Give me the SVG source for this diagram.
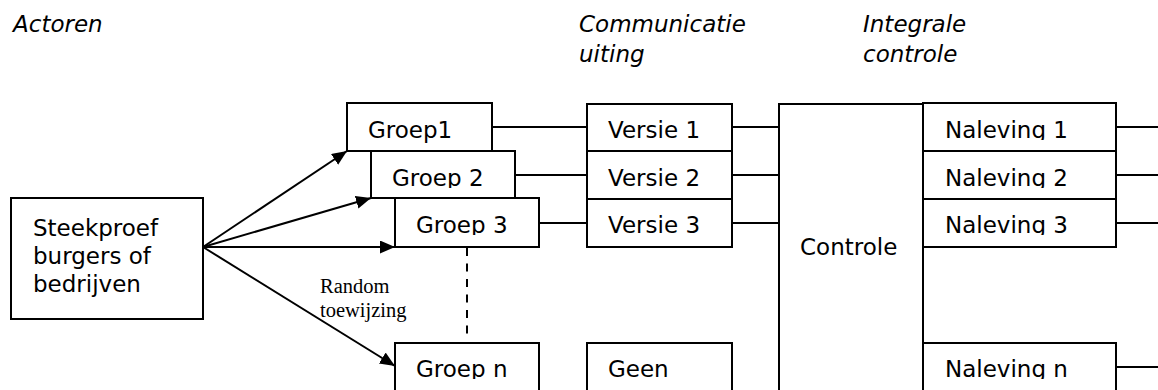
<svg xmlns="http://www.w3.org/2000/svg" width="1158" height="390" viewBox="0 0 1158 390">
<style>
.box{fill:#fff;stroke:#000;stroke-width:2}
.t{font-family:"DejaVu Sans",Verdana,sans-serif;font-size:23px;fill:#000}
.h{font-family:"DejaVu Sans",Verdana,sans-serif;font-size:23px;font-style:italic;fill:#000}
.s{font-family:"Liberation Serif","Times New Roman",serif;font-size:20.5px;fill:#000}
.ln{stroke:#000;stroke-width:2;fill:none}
.dash{stroke:#000;stroke-width:2;fill:none;stroke-dasharray:8 7.5}
</style>
<defs>
<marker id="ah" markerUnits="userSpaceOnUse" markerWidth="16" markerHeight="14" refX="15" refY="6.5" orient="auto">
<path d="M0,0 L15,6.5 L0,13 z" fill="#000"/>
</marker>
<clipPath id="c2"><rect x="371" y="151" width="144" height="37"/></clipPath>
<clipPath id="c3"><rect x="395" y="198" width="144" height="37"/></clipPath>
<clipPath id="cn1"><rect x="923" y="103" width="193" height="37"/></clipPath>
<clipPath id="cn2"><rect x="923" y="151" width="193" height="37"/></clipPath>
<clipPath id="cn3"><rect x="923" y="199" width="193" height="36"/></clipPath>
<clipPath id="cbot"><rect x="0" y="343" width="1158" height="36"/></clipPath>
</defs>
<g id="headers">
<text class="h" x="13" y="32">Actoren</text>
<text class="h" x="579" y="32">Communicatie</text>
<text class="h" x="579" y="62">uiting</text>
<text class="h" x="863" y="32">Integrale</text>
<text class="h" x="863" y="62">controle</text>
</g>
<g id="connectors">
<line class="ln" x1="203" y1="247" x2="347" y2="151" marker-end="url(#ah)"/>
<line class="ln" x1="203" y1="247" x2="371" y2="198" marker-end="url(#ah)"/>
<line class="ln" x1="203" y1="247" x2="395" y2="247" marker-end="url(#ah)"/>
<line class="ln" x1="203" y1="247" x2="395" y2="366" marker-end="url(#ah)"/>
<line class="dash" x1="467" y1="248" x2="467" y2="339"/>
<line class="ln" x1="492" y1="127" x2="587" y2="127"/>
<line class="ln" x1="515" y1="175" x2="587" y2="175"/>
<line class="ln" x1="539" y1="223" x2="587" y2="223"/>
<line class="ln" x1="732" y1="127" x2="779" y2="127"/>
<line class="ln" x1="732" y1="175" x2="779" y2="175"/>
<line class="ln" x1="732" y1="223" x2="779" y2="223"/>
<line class="ln" x1="1116" y1="127" x2="1158" y2="127"/>
<line class="ln" x1="1116" y1="175" x2="1158" y2="175"/>
<line class="ln" x1="1116" y1="223" x2="1158" y2="223"/>
<line class="ln" x1="1116" y1="367" x2="1158" y2="367"/>
<text class="s" x="320" y="293">Random</text>
<text class="s" x="320" y="317">toewijzing</text>
</g>
<g id="steekproef">
<rect class="box" x="11" y="198" width="192" height="121"/>
<text class="t" x="33" y="235.5">Steekproef</text>
<text class="t" x="33" y="264">burgers of</text>
<text class="t" x="33" y="292">bedrijven</text>
</g>
<g id="groep1">
<rect class="box" x="347" y="103" width="145" height="48"/>
<text class="t" x="368" y="137.5">Groep1</text>
</g>
<g id="groep2">
<rect class="box" x="371" y="151" width="144" height="47"/>
<text class="t" x="392" y="186" clip-path="url(#c2)">Groep 2</text>
</g>
<g id="groep3">
<rect class="box" x="395" y="198" width="144" height="49"/>
<text class="t" x="416" y="233" clip-path="url(#c3)">Groep 3</text>
</g>
<g id="groepn">
<rect class="box" x="395" y="343" width="144" height="60"/>
<text class="t" x="416" y="377" clip-path="url(#cbot)">Groep n</text>
</g>
<g id="versie1">
<rect class="box" x="587" y="104" width="145" height="47"/>
<text class="t" x="608" y="138">Versie 1</text>
</g>
<g id="versie2">
<rect class="box" x="587" y="151" width="145" height="48"/>
<text class="t" x="608" y="186">Versie 2</text>
</g>
<g id="versie3">
<rect class="box" x="587" y="199" width="145" height="48"/>
<text class="t" x="608" y="233">Versie 3</text>
</g>
<g id="geen">
<rect class="box" x="587" y="343" width="145" height="60"/>
<text class="t" x="608" y="377">Geen</text>
</g>
<g id="controle">
<rect class="box" x="779" y="104" width="144" height="300"/>
<text class="t" x="800" y="255">Controle</text>
</g>
<g id="naleving1">
<rect class="box" x="923" y="103" width="193" height="48"/>
<text class="t" x="945" y="138" clip-path="url(#cn1)">Naleving 1</text>
</g>
<g id="naleving2">
<rect class="box" x="923" y="151" width="193" height="48"/>
<text class="t" x="945" y="186" clip-path="url(#cn2)">Naleving 2</text>
</g>
<g id="naleving3">
<rect class="box" x="923" y="199" width="193" height="48"/>
<text class="t" x="945" y="233" clip-path="url(#cn3)">Naleving 3</text>
</g>
<g id="navelingn">
<rect class="box" x="923" y="343" width="193" height="60"/>
<text class="t" x="945" y="377" clip-path="url(#cbot)">Naleving n</text>
</g>
</svg>
